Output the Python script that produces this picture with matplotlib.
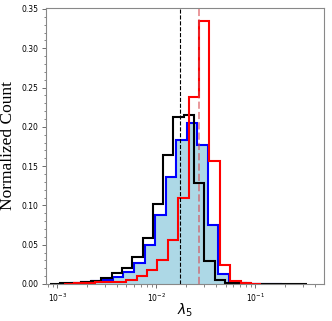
import numpy as np
import matplotlib
matplotlib.use('Agg')
import matplotlib.pyplot as plt
from matplotlib.ticker import MultipleLocator

# normalized counts per log bin
black_start, black_width = -3.0747, 0.1040   # log10 of first edge, bin width (decades)
black_counts = [0.0005, 0.001, 0.0015, 0.0025, 0.004, 0.0072, 0.0136, 0.020,
                0.034, 0.058, 0.102, 0.164, 0.2125, 0.2146, 0.128, 0.029,
                0.005, 0.0015, 0.0008, 0.0004, 0.0003, 0.0002, 0.0001, 0.0001, 0.0001]

blue_start, blue_width = -2.9712, 0.1066
blue_counts = [0.0005, 0.001, 0.002, 0.0035, 0.0055, 0.0093, 0.0157, 0.0263,
               0.0496, 0.0878, 0.1365, 0.183, 0.2044, 0.177, 0.075, 0.0127,
               0.003, 0.001, 0.0005, 0.0003, 0.0002]

red_start, red_width = -2.9333, 0.1050
red_counts = [0.0004, 0.0008, 0.0012, 0.002, 0.0025, 0.003, 0.005, 0.0106,
              0.0178, 0.0305, 0.056, 0.109, 0.2375, 0.335, 0.1565, 0.024,
              0.004, 0.001, 0.0005]

black_median = 0.01735
red_median = 0.027


def log_edges(start, width, n):
    return 10 ** (start + width * np.arange(n + 1))


fig = plt.figure(figsize=(3.32, 3.21), dpi=100)
ax = fig.add_axes([0.140, 0.1153, 0.836, 0.86])

e = log_edges(blue_start, blue_width, len(blue_counts))
ax.stairs(blue_counts, e, fill=True, facecolor='lightblue', edgecolor='blue', linewidth=1.5)

e = log_edges(black_start, black_width, len(black_counts))
ax.stairs(black_counts, e, color='black', linewidth=1.5)

e = log_edges(red_start, red_width, len(red_counts))
ax.stairs(red_counts, e, color='red', linewidth=1.5)

ax.axvline(black_median, color='black', linestyle='--', linewidth=0.8)
ax.axvline(red_median, color='#d9434a', linestyle='--', linewidth=1.4, alpha=0.55)

ax.set_xscale('log')
ax.set_xlim(7.78e-4, 0.494)
ax.set_ylim(0, 0.3513)
ax.yaxis.set_major_locator(MultipleLocator(0.05))
ax.yaxis.set_minor_locator(MultipleLocator(0.01))

for s in ax.spines.values():
    s.set_color('#888888')
    s.set_linewidth(0.8)
ax.tick_params(which='both', direction='out', color='#555555', labelsize=5.5, pad=2.5)
ax.tick_params(which='major', length=3, width=0.6)
ax.tick_params(which='minor', length=1.8, width=0.5)

ax.set_ylabel('Normalized Count', family='Liberation Serif', fontsize=12.5, labelpad=4)
ax.set_xlabel(r'$\lambda_5$', fontsize=10, labelpad=-1.5)

fig.savefig('out.png', dpi=100)
